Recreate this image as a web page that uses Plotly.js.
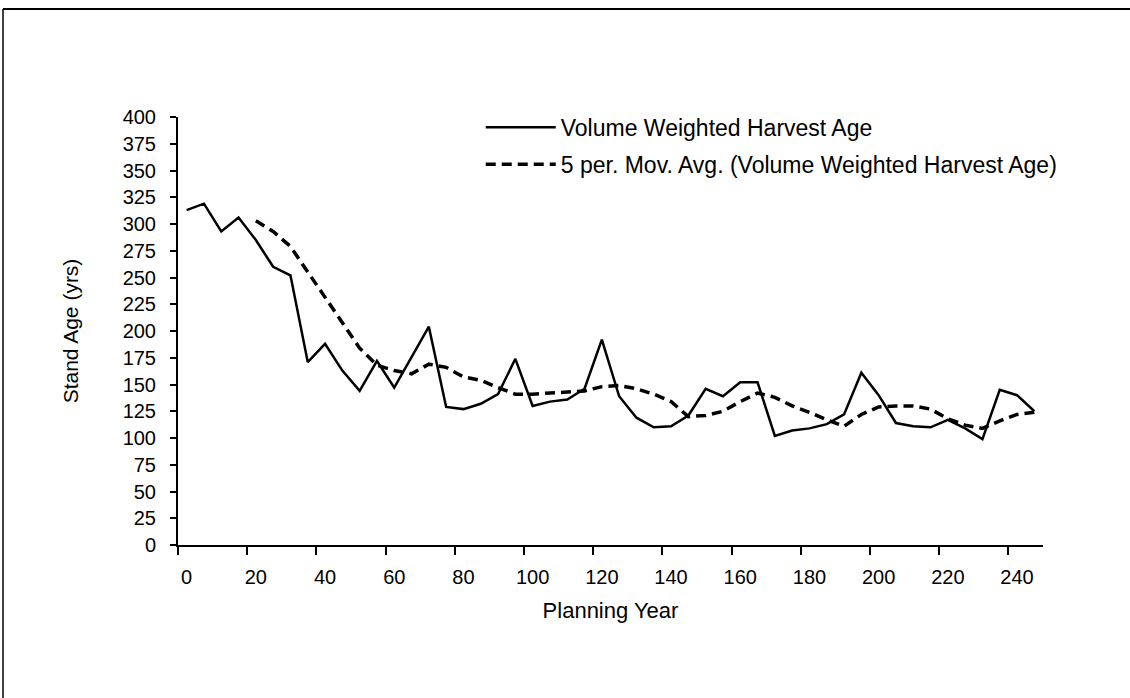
<!DOCTYPE html>
<html>
<head>
<meta charset="utf-8">
<script src="https://cdn.plot.ly/plotly-3.0.1.min.js"></script>
<style>html,body{margin:0;padding:0;background:#fff;}#chart{width:1130px;height:698px;}</style>
</head>
<body>
<div id="chart"></div>
<script>
// Planning years (categories)
const planningYear = [0,5,10,15,20,25,30,35,40,45,50,55,60,65,70,75,80,85,90,95,100,105,110,115,120,125,130,135,140,145,150,155,160,165,170,175,180,185,190,195,200,205,210,215,220,225,230,235,240,245];
// Volume weighted harvest age (yrs)
const harvestAge = [313,319,293,306,285,260,252,171,188,163,144,172,147,176,204,129,127,132,141,174,130,134,136,146,192,139,119,110,111,121,146,139,152,152,102,107,109,113,122,161,140,114,111,110,117,109,99,145,140,125];
// 5 period moving average as drawn (starts at year 20)
const movAvgYear = [20,25,30,35,40,45,50,55,60,65,70,75,80,85,90,95,100,105,110,115,120,125,130,135,140,145,150,155,160,165,170,175,180,185,190,195,200,205,210,215,220,225,230,235,240,245];
const movAvg = [303,293,279,255,231,207,184,168,163,160,169,166,157,154,147,141,141,142,143,144,148,149,146,141,134,120,121,125,134,142,138,130,124,117,111,122,129,130,130,127,118,112,109,116,122,124];
const xTickVals = [0,20,40,60,80,100,120,140,160,180,200,220,240];
const xTickText = ['0','20','40','60','80','100','120','140','160','180','200','220','240'];
const yTickVals = [0,25,50,75,100,125,150,175,200,225,250,275,300,325,350,375,400];

const FONT = 'Liberation Sans, Arial, Helvetica, sans-serif';

const traces = [
  {x: planningYear, y: harvestAge, type: 'scatter', mode: 'lines',
   name: 'Volume Weighted Harvest Age', legendgroup: 'a',
   line: {color: '#000', width: 2.5}},
  {x: movAvgYear, y: movAvg, type: 'scatter', mode: 'lines',
   name: '5 per. Mov. Avg. (Volume Weighted Harvest Age)', legendgroup: 'b',
   line: {color: '#000', width: 3.5, dash: '10px,6px'}}
];

const layout = {
  width: 1130, height: 698,
  margin: {l: 178, r: 87, t: 117, b: 153},
  paper_bgcolor: '#fff', plot_bgcolor: '#fff',
  font: {family: FONT, size: 20, color: '#000'},
  showlegend: true,
  legend: {x: 0.35, y: 1.026, xanchor: 'left', yanchor: 'top', bgcolor: 'rgba(0,0,0,0)',
           font: {family: FONT, size: 23, color: '#000'}, itemwidth: 70, tracegroupgap: 4, traceorder: 'grouped'},
  xaxis: {
    range: [-2.5, 247.5], showgrid: false, zeroline: false,
    showline: true, linecolor: '#000', linewidth: 2,
    tickmode: 'array', tickvals: xTickVals, ticktext: xTickText, ticks: '',
    ticklabelstandoff: 13,
    minor: {tick0: -2.5, dtick: 20, ticks: 'outside', ticklen: 8, tickwidth: 2, tickcolor: '#000', showgrid: false},
    tickfont: {family: FONT, size: 20},
    title: {text: 'Planning Year', font: {family: FONT, size: 22}, standoff: 16}
  },
  yaxis: {
    range: [0, 400], showgrid: false, zeroline: false,
    showline: true, linecolor: '#000', linewidth: 2,
    tickmode: 'array', tickvals: yTickVals, ticks: 'outside', ticklen: 6, tickwidth: 2, tickcolor: '#000',
    ticklabelstandoff: 10,
    tickfont: {family: FONT, size: 20},
    title: {text: 'Stand Age (yrs)', font: {family: FONT, size: 21}, standoff: 38}
  },
  shapes: [
    {type: 'line', xref: 'paper', yref: 'paper', x0: -0.2023, x1: 1.11, y0: 1.2523, y1: 1.2523, line: {color: '#000', width: 2}},
    {type: 'line', xref: 'paper', yref: 'paper', x0: -0.2023, x1: -0.2023, y0: 1.2523, y1: -0.40, line: {color: '#000', width: 1.5}}
  ]
};

Plotly.newPlot('chart', traces, layout, {displayModeBar: false, staticPlot: true});
</script>
</body>
</html>
